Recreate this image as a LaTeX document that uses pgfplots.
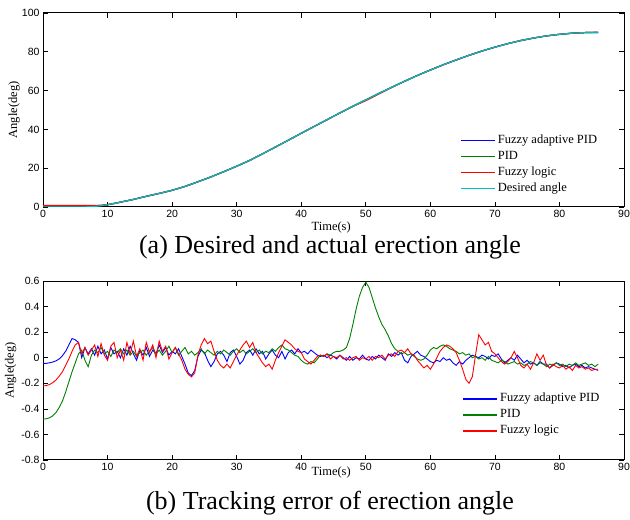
\documentclass[border=0pt]{standalone}
\usepackage{pgfplots}
\pgfplotsset{compat=1.18}
\usepackage{pgfplotstable}
\usepackage{fontspec}
\setmainfont{Liberation Serif}
\newfontfamily\arial{Liberation Sans}
\definecolor{mblue}{RGB}{0,0,255}
\definecolor{mgreen}{RGB}{0,128,0}
\definecolor{mred}{RGB}{255,0,0}
\definecolor{mcyan}{RGB}{0,191,191}

\pgfplotstableread{
t des
0 0
6 0
7 0.1
8 0.3
9 0.7
10 1.2
11 1.8
12 2.5
13 3.2
14 3.9
15 4.7
16 5.5
18 7.0
20 8.6
22 10.6
24 13
26 15.5
28 18.2
30 21
32 24
34 27.4
36 30.9
38 34.4
40 38
42 41.5
44 45
46 48.5
48 51.9
50 55.2
52 58.5
54 61.7
56 64.8
58 67.8
60 70.6
62 73.3
64 75.8
66 78.2
68 80.4
70 82.4
72 84.2
74 85.8
76 87.1
78 88.2
80 89.0
82 89.6
84 89.9
86 90
}\desired

\pgfplotstableread{
t des
0 0.8
6 0.8
7 0.8
8 0.8
9 0.9
10 1.2
11 1.8
12 2.5
13 3.2
14 3.9
15 4.7
16 5.5
18 7.0
20 8.6
22 10.6
24 13
26 15.5
28 18.2
30 21
32 24
34 27.4
36 30.9
38 34.4
40 38
42 41.5
44 45
46 48.5
48 51.9
50 54.8
52 58.2
54 61.6
56 64.8
58 67.8
60 70.6
62 73.3
64 75.8
66 78.2
68 80.4
70 82.4
72 84.2
74 85.8
76 87.1
78 88.2
80 89.0
82 89.6
84 89.9
86 90.1
}\fuzzyang

\pgfplotstableread{
t e
0 -0.045
0.5 -0.044
1 -0.040
1.5 -0.034
2 -0.025
2.5 -0.010
3 0.015
3.5 0.05
4 0.10
4.5 0.15
5 0.14
5.5 0.12
6 0.00
6.5 0.08
7 0.03
7.5 0.07
8 0.02
8.5 0.09
9 0.03
9.5 0.06
10 -0.01
10.5 0.08
11 0.03
11.5 0.05
12 0.0
12.5 0.07
13 0.02
13.5 0.09
14 0.03
14.5 -0.02
15 0.06
15.5 0.02
16 0.08
16.5 0.01
17 0.06
17.5 0.03
18 0.10
18.5 0.04
19 0.08
19.5 0.02
20 0.05
20.5 0.03
21 0.07
21.5 0.01
22 -0.05
22.5 -0.12
23 -0.14
23.5 -0.10
24 0.01
24.5 0.06
25 0.04
25.5 -0.02
26 -0.07
26.5 -0.03
27 0.03
27.5 0.05
28 0.02
28.5 -0.03
29 0.04
29.5 0.06
30 0.01
30.5 -0.05
31 -0.02
31.5 0.04
32 0.06
32.5 0.02
33 0.07
33.5 0.03
34 0.05
34.5 -0.01
35 0.03
35.5 0.06
36 0.02
36.5 0.0
37 0.05
37.5 -0.01
38 0.04
38.5 0.06
39 0.03
39.5 0.07
40 0.04
40.5 0.05
41 0.03
41.5 0.06
42 0.04
42.5 0.02
43 0.01
43.5 0.02
44 0.00
44.5 0.02
45 0.01
45.5 -0.01
46 0.02
46.5 0.00
47 -0.02
47.5 0.01
48 -0.02
48.5 0.00
49 -0.01
49.5 0.02
50 -0.01
50.5 -0.02
51 0.01
51.5 -0.01
52 0.02
52.5 0.00
53 -0.02
53.5 0.03
54 0.01
54.5 0.04
55 0.02
55.5 0.04
56 -0.02
56.5 -0.04
57 0.01
57.5 0.03
58 0.05
58.5 0.02
59 0.01
59.5 -0.01
60 -0.03
60.5 -0.04
61 -0.02
61.5 -0.03
62 0.0
62.5 -0.02
63 -0.01
63.5 -0.04
64 -0.06
64.5 -0.03
65 -0.05
65.5 -0.02
66 0.0
66.5 0.02
67 0.01
67.5 0.0
68 0.02
68.5 0.01
69 -0.01
69.5 0.02
70 0.01
70.5 0.03
71 -0.01
71.5 -0.04
72 -0.02
72.5 0.0
73 -0.02
73.5 0.02
74 -0.01
74.5 -0.04
75 -0.02
75.5 -0.05
76 -0.04
76.5 -0.06
77 -0.03
77.5 -0.05
78 -0.05
78.5 -0.08
79 -0.06
79.5 -0.04
80 -0.05
80.5 -0.07
81 -0.06
81.5 -0.08
82 -0.06
82.5 -0.05
83 -0.07
83.5 -0.06
84 -0.08
84.5 -0.07
85 -0.08
85.5 -0.09
86 -0.09
}\fapid

\pgfplotstableread{
t e
0 -0.48
0.5 -0.478
1 -0.47
1.5 -0.455
2 -0.43
2.5 -0.39
3 -0.34
3.5 -0.27
4 -0.19
4.5 -0.11
5 -0.04
5.5 0.03
6 0.06
6.5 -0.02
7 -0.07
7.5 0.02
8 0.06
8.5 0.04
9 0.08
9.5 0.03
10 0.05
10.5 0.01
11 0.06
11.5 0.04
12 0.07
12.5 0.03
13 0.06
13.5 0.02
14 0.05
14.5 0.01
15 0.04
15.5 0.06
16 0.02
16.5 0.05
17 0.08
17.5 0.03
18 0.06
18.5 0.02
19 0.05
19.5 0.09
20 0.04
20.5 0.08
21 0.02
21.5 0.05
22 0.08
22.5 0.03
23 0.05
23.5 0.02
24 0.04
24.5 0.07
25 0.03
25.5 0.06
26 0.04
26.5 0.02
27 0.05
27.5 0.03
28 0.06
28.5 0.04
29 0.02
29.5 0.05
30 0.07
30.5 0.04
31 0.06
31.5 0.03
32 0.05
32.5 0.07
33 0.04
33.5 0.06
34 0.03
34.5 0.05
35 0.04
35.5 0.07
36 0.05
36.5 0.08
37 0.10
37.5 0.07
38 0.06
38.5 0.04
39 0.02
39.5 0.01
40 -0.02
40.5 -0.04
41 -0.05
41.5 -0.03
42 -0.04
42.5 -0.01
43 0.02
43.5 0.01
44 0.03
44.5 0.02
45 0.04
45.5 0.05
46 0.05
46.5 0.06
47 0.08
47.5 0.15
48 0.26
48.5 0.38
49 0.48
49.5 0.55
50 0.59
50.5 0.55
51 0.47
51.5 0.39
52 0.32
52.5 0.26
53 0.22
53.5 0.17
54 0.11
54.5 0.07
55 0.05
55.5 0.03
56 0.04
56.5 0.02
57 0.03
57.5 0.01
58 -0.01
58.5 -0.02
59 -0.01
59.5 0.02
60 0.06
60.5 0.08
61 0.07
61.5 0.09
62 0.10
62.5 0.09
63 0.07
63.5 0.06
64 0.05
64.5 0.03
65 0.04
65.5 0.02
66 0.03
66.5 0.0
67 0.01
67.5 -0.01
68 0.0
68.5 -0.02
69 0.01
69.5 -0.02
70 -0.03
70.5 -0.04
71 -0.02
71.5 -0.03
72 -0.05
72.5 -0.04
73 -0.03
73.5 -0.05
74 -0.04
74.5 -0.06
75 -0.05
75.5 -0.03
76 -0.04
76.5 -0.06
77 -0.04
77.5 -0.05
78 -0.07
78.5 -0.05
79 -0.06
79.5 -0.04
80 -0.06
80.5 -0.05
81 -0.07
81.5 -0.05
82 -0.06
82.5 -0.04
83 -0.06
83.5 -0.05
84 -0.04
84.5 -0.06
85 -0.05
85.5 -0.07
86 -0.05
}\pid

\pgfplotstableread{
t e
0 -0.22
0.5 -0.218
1 -0.21
1.5 -0.195
2 -0.175
2.5 -0.145
3 -0.11
3.5 -0.06
4 -0.01
4.5 0.05
5 0.10
5.5 0.12
6 0.03
6.5 0.08
7 0.02
7.5 0.06
8 0.10
8.5 0.01
9 0.11
9.5 0.02
10 -0.02
10.5 0.09
11 0.12
11.5 0.0
12 0.06
12.5 -0.02
13 0.12
13.5 0.03
14 0.13
14.5 0.01
15 0.07
15.5 -0.02
16 0.12
16.5 0.04
17 0.10
17.5 0.0
18 0.13
18.5 0.05
19 0.09
19.5 -0.01
20 0.04
20.5 0.08
21 0.03
21.5 -0.02
22 -0.09
22.5 -0.13
23 -0.15
23.5 -0.12
24 0.02
24.5 0.10
25 0.15
25.5 0.11
26 0.13
26.5 0.05
27 -0.02
27.5 -0.06
28 -0.08
28.5 -0.05
29 -0.08
29.5 -0.03
30 0.02
30.5 0.06
31 0.10
31.5 0.13
32 0.08
32.5 0.12
33 0.04
33.5 0.0
34 -0.04
34.5 -0.07
35 -0.05
35.5 -0.09
36 -0.02
36.5 0.04
37 0.09
37.5 0.14
38 0.12
38.5 0.10
39 0.07
39.5 0.05
40 0.04
40.5 -0.01
41 -0.03
41.5 -0.05
42 -0.02
42.5 0.01
43 0.02
43.5 0.01
44 0.03
44.5 -0.01
45 0.01
45.5 0.00
46 0.02
46.5 -0.01
47 0.0
47.5 -0.02
48 0.0
48.5 0.01
49 -0.02
49.5 0.0
50 -0.01
50.5 0.01
51 -0.02
51.5 0.01
52 0.0
52.5 0.02
53 -0.01
53.5 0.02
54 0.03
54.5 0.01
55 0.05
55.5 0.06
56 0.04
56.5 0.07
57 0.03
57.5 0.02
58 -0.02
58.5 -0.05
59 -0.08
59.5 -0.06
60 -0.09
60.5 -0.05
61 0.0
61.5 0.05
62 0.08
62.5 0.10
63 0.09
63.5 0.07
64 0.04
64.5 -0.02
65 -0.09
65.5 -0.17
66 -0.20
66.5 -0.15
67 0.02
67.5 0.18
68 0.14
68.5 0.10
69 0.12
69.5 0.05
70 0.03
70.5 0.0
71 -0.03
71.5 -0.05
72 -0.03
72.5 0.0
73 0.05
73.5 0.0
74 -0.06
74.5 -0.08
75 -0.05
75.5 -0.09
76 -0.04
76.5 0.03
77 -0.02
77.5 0.02
78 -0.06
78.5 -0.08
79 -0.05
79.5 -0.07
80 -0.08
80.5 -0.06
81 -0.09
81.5 -0.07
82 -0.10
82.5 -0.06
83 -0.08
83.5 -0.07
84 -0.09
84.5 -0.08
85 -0.10
85.5 -0.09
86 -0.10
}\fuzzy

\pgfplotsset{
  mystyle/.style={
    scale only axis,
    xmin=0, xmax=90,
    xtick={0,10,...,90},
    tick align=inside,
    major tick length=5pt,
    axis line style={line width=1pt},
    every tick/.style={black, line width=0.6pt},
    ticklabel style={font=\arial\fontsize{10.5}{12}\selectfont},
    /pgf/number format/assume math mode=true,
    xlabel={Time(s)},
    ylabel={Angle(deg)},
    label style={font=\fontsize{12.5}{14}\selectfont},
    legend cell align=left,
    legend image post style={xscale=2, line width=1.8pt},
    legend style={draw=none, fill=none, anchor=north west,
      font=\fontsize{12.5}{14}\selectfont, row sep=0pt,
      nodes={inner sep=2pt, text height=9pt, text depth=3pt}},
  }
}

\begin{document}
\begin{tikzpicture}[x=1pt,y=1pt]
\useasboundingbox (0,0) rectangle (630,520);

\begin{axis}[mystyle,
  at={(43pt,313pt)}, anchor=south west,
  width=581pt, height=194pt,
  ymin=0, ymax=100, ytick={0,20,...,100},
  xlabel style={at={(axis description cs:0.496,0)}, anchor=north, yshift=-11pt},
  ylabel style={at={(axis description cs:-0.034,0.5)}, anchor=south},
  legend style={at={(axis description cs:0.712,0.395)}},
]
\addplot[mblue, line width=1.2pt] table[x=t,y=des] \desired;
\addlegendentry{Fuzzy adaptive PID}
\addplot[mgreen, line width=1.2pt] table[x=t,y=des] \desired;
\addlegendentry{PID}
\addplot[mred, line width=1.2pt] table[x=t,y=des] \fuzzyang;
\addlegendentry{Fuzzy logic}
\addplot[mcyan, line width=1.2pt] table[x=t,y=des] \desired;
\addlegendentry{Desired angle}
\end{axis}

\node[font=\fontsize{26}{30}\selectfont] at (330,273) {(a) Desired and actual erection angle};

\begin{axis}[mystyle,
  at={(43pt,60pt)}, anchor=south west,
  width=581pt, height=179pt,
  ymin=-0.8, ymax=0.6, ytick={-0.8,-0.6,...,0.61},
  yticklabel style={/pgf/number format/fixed, /pgf/number format/precision=1},
  xlabel style={at={(axis description cs:0.496,0)}, anchor=north, yshift=-3pt},
  ylabel style={at={(axis description cs:-0.04,0.5)}, anchor=south},
  legend style={at={(axis description cs:0.716,0.40)}},
]
\addplot[mblue, line width=0.9pt] table[x=t,y=e] \fapid;
\addlegendentry{Fuzzy adaptive PID}
\addplot[mgreen, line width=0.9pt] table[x=t,y=e] \pid;
\addlegendentry{PID}
\addplot[mred, line width=0.9pt] table[x=t,y=e] \fuzzy;
\addlegendentry{Fuzzy logic}
\end{axis}

\node[font=\fontsize{26}{30}\selectfont] at (330,17) {(b) Tracking error of erection angle};
\end{tikzpicture}
\end{document}
